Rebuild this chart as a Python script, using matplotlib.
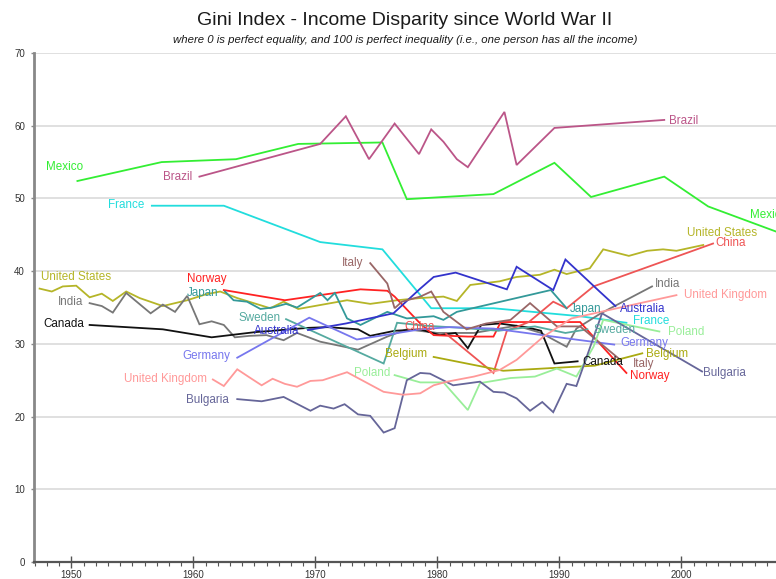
import matplotlib
matplotlib.use("Agg")
import matplotlib.pyplot as plt
from matplotlib.ticker import MultipleLocator

plt.rcParams['font.family'] = ['Liberation Sans', 'DejaVu Sans']

# Gini values, one pair of lists per country
mexico_years = [1950.5, 1957.4, 1963.5, 1968.6, 1975.5, 1977.5, 1984.6, 1989.6, 1992.6, 1998.6, 2002.2, 2008.0]
mexico_gini = [52.4, 55.0, 55.4, 57.5, 57.7, 49.9, 50.6, 54.9, 50.2, 53.0, 48.9, 45.3]

brazil_years = [1960.5, 1970.4, 1972.5, 1974.4, 1976.5, 1978.5, 1979.5, 1980.5, 1981.6, 1982.5, 1985.5, 1986.5, 1989.6, 1998.6]
brazil_gini = [53.0, 57.5, 61.3, 55.4, 60.3, 56.1, 59.5, 57.8, 55.4, 54.3, 61.9, 54.6, 59.7, 60.8]

france_years = [1956.6, 1962.5, 1970.4, 1975.5, 1979.5, 1984.6, 1991.7, 1995.5]
france_gini = [49.0, 49.0, 44.0, 43.0, 34.9, 34.9, 33.8, 32.9]

us_years = [1947.4, 1948.4, 1949.3, 1950.4, 1951.5, 1952.5, 1953.4, 1954.5, 1955.6, 1957.5, 1959.5, 1961.0,
            1962.2, 1963.6, 1966.3, 1967.4, 1968.6, 1972.6, 1974.5, 1976.7, 1978.6, 1980.5, 1981.6, 1982.7,
            1985.1, 1986.5, 1988.4, 1989.6, 1990.6, 1992.5, 1993.6, 1995.7, 1997.2, 1998.5, 1999.6, 2001.8]
us_gini = [37.6, 37.2, 37.9, 38.0, 36.4, 36.9, 35.9, 37.2, 36.3, 35.2, 36.0, 36.8,
           37.2, 36.3, 34.9, 35.8, 34.8, 36.0, 35.5, 36.0, 36.3, 36.5, 35.9, 38.1,
           38.6, 39.2, 39.5, 40.2, 39.6, 40.4, 43.0, 42.1, 42.8, 43.0, 42.8, 43.6]

india_years = [1951.5, 1952.5, 1953.4, 1954.5, 1956.5, 1957.5, 1958.5, 1959.5, 1960.5, 1961.5, 1962.5, 1963.4,
               1964.6, 1966.0, 1967.4, 1968.5, 1970.4, 1973.5, 1975.9, 1977.5, 1980.0, 1983.0, 1986.5, 1988.5,
               1990.6, 1991.4, 1993.4, 1997.6]
india_gini = [35.6, 35.2, 34.3, 37.0, 34.2, 35.4, 34.4, 36.6, 32.7, 33.1, 32.6, 30.9,
              31.1, 31.2, 30.5, 31.5, 30.3, 29.2, 31.0, 32.0, 31.5, 31.5, 32.5, 31.5,
              29.6, 32.1, 34.2, 37.9]

canada_years = [1951.5, 1957.5, 1961.5, 1965.0, 1969.4, 1971.0, 1973.5, 1974.5, 1976.5, 1978.6, 1980.2,
                1981.5, 1982.5, 1983.6, 1985.1, 1987.3, 1988.5, 1989.6, 1991.5]
canada_gini = [32.6, 32.0, 30.9, 31.6, 32.2, 32.3, 32.0, 31.1, 31.8, 32.0, 31.2,
               31.5, 29.4, 32.6, 32.8, 32.3, 31.8, 27.3, 27.6]

norway_years = [1962.5, 1967.5, 1973.7, 1975.9, 1976.5, 1978.6, 1979.7, 1982.5, 1984.6, 1985.2, 1991.7, 1995.5]
norway_gini = [37.4, 36.0, 37.5, 37.3, 36.5, 32.8, 31.2, 31.0, 31.0, 33.0, 33.0, 26.0]

china_years = [1980.7, 1984.6, 1985.7, 1987.5, 1989.5, 1990.6, 1992.8, 2002.6]
china_gini = [31.4, 26.0, 31.8, 33.0, 35.8, 34.9, 37.9, 43.8]

japan_years = [1962.6, 1963.3, 1964.4, 1965.5, 1966.5, 1967.6, 1968.5, 1970.4, 1971.0, 1971.6, 1972.6,
               1973.7, 1975.9, 1977.5, 1979.7, 1980.5, 1981.6, 1989.3, 1990.6]
japan_gini = [37.2, 36.0, 35.8, 34.8, 35.0, 35.5, 35.0, 37.0, 36.0, 37.0, 33.5,
              32.6, 34.4, 33.5, 33.8, 33.3, 34.4, 37.4, 34.9]

sweden_years = [1967.6, 1975.6, 1976.7, 1979.0, 1982.0, 1985.0, 1988.0, 1990.5, 1992.3]
sweden_gini = [33.4, 27.3, 32.9, 32.5, 32.2, 31.8, 32.4, 31.5, 32.0]

australia_years = [1969.4, 1972.5, 1976.4, 1978.6, 1979.7, 1981.5, 1985.7, 1986.5, 1989.5, 1990.5, 1993.3, 1994.6]
australia_gini = [31.9, 32.8, 34.2, 37.6, 39.2, 39.8, 37.5, 40.6, 37.4, 41.6, 37.2, 35.2]

germany_years = [1963.6, 1969.5, 1973.4, 1976.4, 1978.6, 1981.0, 1984.6, 1989.5, 1994.5]
germany_gini = [28.1, 33.6, 30.6, 31.4, 32.0, 32.3, 32.1, 31.0, 29.9]

italy_years = [1974.5, 1975.9, 1976.5, 1977.1, 1978.6, 1979.5, 1980.5, 1982.4, 1984.0, 1986.0, 1987.6,
               1989.8, 1991.7, 1995.0]
italy_gini = [41.1, 38.3, 34.9, 35.8, 36.5, 37.2, 34.4, 32.0, 32.8, 33.3, 35.6, 32.4, 32.4, 27.8]

belgium_years = [1979.7, 1985.4, 1992.9, 1996.8]
belgium_gini = [28.2, 26.3, 27.0, 28.7]

poland_years = [1976.5, 1978.6, 1980.5, 1982.5, 1983.5, 1986.0, 1988.0, 1989.8, 1991.4, 1992.8, 1993.6, 1998.2]
poland_gini = [25.7, 24.7, 24.7, 20.9, 24.6, 25.3, 25.5, 26.6, 25.5, 29.6, 33.3, 31.7]

bulgaria_years = [1963.6, 1965.6, 1967.4, 1969.6, 1970.4, 1971.5, 1972.4, 1973.5, 1974.5, 1975.6, 1976.5,
                  1977.5, 1978.6, 1979.4, 1981.3, 1983.5, 1984.6, 1985.5, 1986.5, 1987.6, 1988.6, 1989.5,
                  1990.6, 1991.4, 1993.5, 2001.7]
bulgaria_gini = [22.4, 22.1, 22.7, 20.8, 21.5, 21.1, 21.7, 20.3, 20.1, 17.8, 18.4,
                 25.0, 26.0, 25.9, 24.3, 24.8, 23.4, 23.3, 22.5, 20.8, 22.0, 20.6,
                 24.5, 24.2, 34.2, 26.2]

uk_years = [1961.6, 1962.5, 1963.6, 1964.5, 1965.6, 1966.5, 1967.5, 1968.5, 1969.6, 1970.6, 1972.6,
            1975.6, 1977.2, 1978.6, 1979.7, 1980.8, 1983.0, 1985.1, 1986.5, 1988.7, 1991.0, 1995.0, 1999.6]
uk_gini = [25.1, 24.2, 26.5, 25.5, 24.3, 25.2, 24.5, 24.1, 24.9, 25.0, 26.1,
           23.4, 23.0, 23.2, 24.3, 24.8, 25.5, 26.4, 27.8, 31.0, 33.5, 35.0, 36.7]

# name, years, values, colour, start label (x, y), end label (x, y)
series = [
    ("Mexico", mexico_years, mexico_gini, "#33ee33", (1947.9, 54.3), (2005.6, 47.7)),
    ("Brazil", brazil_years, brazil_gini, "#bb5588", (1957.5, 53.0), (1999.0, 60.7)),
    ("France", france_years, france_gini, "#22dddd", (1953.0, 49.1), (1996.0, 33.1)),
    ("United States", us_years, us_gini, "#b5b528", (1947.5, 39.2), (2000.5, 45.3)),
    ("India", india_years, india_gini, "#777777", (1948.9, 35.8), (1997.8, 38.2)),
    ("Canada", canada_years, canada_gini, "#111111", (1947.7, 32.7), (1991.9, 27.5)),
    ("Norway", norway_years, norway_gini, "#ff2222", (1959.5, 38.9), (1995.8, 25.6)),
    ("China", china_years, china_gini, "#ee5555", (1977.3, 32.3), (2002.8, 43.9)),
    ("Japan", japan_years, japan_gini, "#339999", (1959.5, 37.0), (1990.9, 34.8)),
    ("Sweden", sweden_years, sweden_gini, "#55aaa0", (1963.7, 33.6), (1992.8, 31.9)),
    ("Australia", australia_years, australia_gini, "#3333cc", (1965.0, 31.8), (1995.0, 34.8)),
    ("Germany", germany_years, germany_gini, "#7777ee", (1959.1, 28.3), (1995.0, 30.1)),
    ("Italy", italy_years, italy_gini, "#996666", (1972.2, 41.1), (1996.0, 27.2)),
    ("Belgium", belgium_years, belgium_gini, "#aaaa11", (1975.7, 28.6), (1997.1, 28.6)),
    ("Poland", poland_years, poland_gini, "#99ee99", (1973.2, 26.0), (1998.9, 31.6)),
    ("Bulgaria", bulgaria_years, bulgaria_gini, "#666699", (1959.4, 22.3), (2001.8, 26.0)),
    ("United Kingdom", uk_years, uk_gini, "#ff9999", (1954.3, 25.2), (2000.2, 36.7)),
]

fig = plt.figure(figsize=(7.76, 5.79), dpi=100)
ax = fig.add_axes([0.0438, 0.0294, 0.9562, 0.879])

for name, yrs, vals, col, lab0, lab1 in series:
    ax.plot(yrs, vals, color=col, lw=1.3, solid_joinstyle='miter', zorder=3)
    for lx, ly in (lab0, lab1):
        ax.text(lx, ly, name, color=col, fontsize=8.4, ha='left', va='center', zorder=4)

ax.set_xlim(1946.94, 2007.76)
ax.set_ylim(0, 70)

ax.yaxis.set_major_locator(MultipleLocator(10))
ax.xaxis.set_major_locator(MultipleLocator(10))
ax.xaxis.set_minor_locator(MultipleLocator(1))
ax.grid(axis='y', color='#dddddd', lw=1.3, zorder=0)
ax.set_axisbelow(True)

for s in ('top', 'right'):
    ax.spines[s].set_visible(False)
ax.spines['left'].set_color('#888888')
ax.spines['left'].set_linewidth(2)
ax.spines['bottom'].set_color('#555555')
ax.spines['bottom'].set_linewidth(1.6)

ax.tick_params(axis='y', length=2.5, width=1, color='#888888', pad=4, labelsize=7, labelcolor='#333333')
ax.tick_params(axis='x', which='major', direction='inout', length=9, width=1, color='#555555',
               pad=1, labelsize=7, labelcolor='#333333')
ax.tick_params(axis='x', which='minor', direction='out', length=3, width=0.8, color='#555555')

fig.text(0.522, 0.965, "Gini Index - Income Disparity since World War II", ha='center', va='center',
         fontsize=14, color='#1a1a1a')
fig.text(0.522, 0.931, "where 0 is perfect equality, and 100 is perfect inequality (i.e., one person has all the income)",
         ha='center', va='center', fontsize=8.2, style='italic', color='#1a1a1a')

fig.savefig("out.png", dpi=100)
